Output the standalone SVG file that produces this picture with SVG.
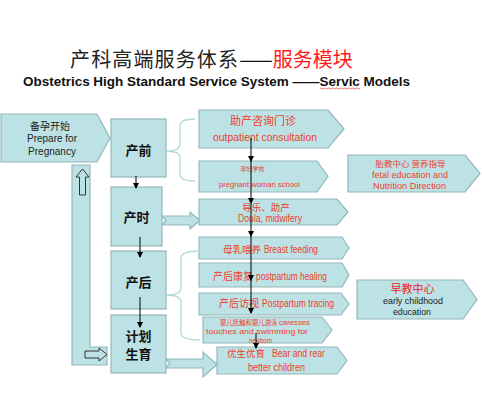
<svg xmlns="http://www.w3.org/2000/svg" width="482" height="420" viewBox="0 0 482 420">
<defs>
<marker id="ah" markerWidth="6" markerHeight="6" refX="5" refY="3" orient="auto" markerUnits="userSpaceOnUse">
<path d="M0,0 L6,3 L0,6 Z" fill="#000"/>
</marker>
<style>
.box{fill:#bde2e5;stroke:#93b7ba;stroke-width:1.2}
.hol{fill:#bde2e5;stroke:#333;stroke-width:1}
.brace{fill:none;stroke:#b2dadd;stroke-width:1.3}
.ar{stroke:#000;stroke-width:1;fill:none;marker-end:url(#ah)}
.en{font-family:"Liberation Sans",Arial,sans-serif}
.cn{font-family:"Noto Sans CJK SC","Noto Sans",sans-serif}
.red{fill:#ee3d2c}
.blk{fill:#222}
.stage{font-family:"Noto Sans CJK SC",sans-serif;font-weight:bold;font-size:13px;fill:#111;text-anchor:middle}
</style>
</defs>
<rect width="482" height="420" fill="#fff"/>

<g id="title">
<text x="70" y="67" class="cn" font-size="20" fill="#222"><tspan textLength="168">产科高端服务体系</tspan><tspan fill="#111">——</tspan><tspan fill="#ff1a1a">服务模块</tspan></text>
<text x="23" y="86" class="en" font-size="12.5" font-weight="bold" fill="#111" textLength="387" lengthAdjust="spacingAndGlyphs">Obstetrics High Standard Service System ——Servic Models</text>
<path d="M320,88.5 q1,-1.2 2,0 t2,0 t2,0 t2,0 t2,0 t2,0 t2,0 t2,0 t2,0 t2,0 t2,0 t2,0 t2,0 t2,0 t2,0 t2,0 t2,0 t2,0 t2,0 t2,0" fill="none" stroke="#e03030" stroke-width="0.7"/>
</g>

<g id="prepare">
<polygon class="box" points="1,114 97,114 110,138 97,162 1,162"/>
<text x="50" y="130" class="cn" font-size="10" fill="#222" text-anchor="middle">备孕开始</text>
<text x="52" y="142" class="en" font-size="10" fill="#222" text-anchor="middle">Prepare for</text>
<text x="52" y="155" class="en" font-size="10" fill="#222" text-anchor="middle">Pregnancy</text>
</g>

<g id="loop">
<polygon class="box" points="72,165 90,165 90,347 107,347 107,365 72,365"/>
<polygon class="hol" points="79.5,195 79.5,177 76,177 82.5,169 89,177 85.5,177 85.5,195"/>
<polygon class="hol" points="85,351 99,351 99,348 107,354.5 99,361 99,358 85,358"/>
</g>

<g id="antenatal">
<rect class="box" x="111" y="119" width="55" height="58"/>
<text x="138.5" y="155" class="stage">产前</text>
</g>
<g id="delivery">
<rect class="box" x="111" y="187" width="51" height="59"/>
<text x="136.5" y="222" class="stage">产时</text>
</g>
<g id="postnatal">
<rect class="box" x="111" y="251" width="55" height="58"/>
<text x="138.5" y="287" class="stage">产后</text>
</g>
<g id="planning">
<rect class="box" x="111" y="315" width="55" height="58"/>
<text x="138.5" y="340.5" class="stage">计划</text>
<text x="138.5" y="358.5" class="stage">生育</text>
</g>

<g id="s1">
<polygon class="box" points="199,110 328,110 344,129 328,148 199,148"/>
<text x="263" y="125" class="cn red" font-size="11" text-anchor="middle">助产咨询门诊</text>
<text x="213" y="141" class="en red" font-size="11" textLength="104" lengthAdjust="spacingAndGlyphs">outpatient consultation</text>
</g>
<g id="s2">
<polygon class="box" points="199,161 317,161 328,176.5 317,192 199,192"/>
<text x="252.5" y="171" class="cn red" font-size="6" text-anchor="middle">孕妇学校</text>
<text x="219" y="187" class="en red" font-size="8" textLength="81" lengthAdjust="spacingAndGlyphs">pregnant woman school</text>
</g>
<g id="s3">
<polygon class="box" points="199,199 337,199 348,212 337,225 199,225"/>
<text x="266" y="210.5" class="cn red" font-size="9.5" text-anchor="middle">导乐、助产</text>
<text x="238" y="221.5" class="en red" font-size="10" textLength="64" lengthAdjust="spacingAndGlyphs">Doula, midwifery</text>
</g>
<g id="s4">
<polygon class="box" points="199,237 342,237 349,248 342,259 199,259"/>
<text x="223" y="252.5" class="cn red" font-size="9.5">母乳喂养</text>
<text x="264" y="252.5" class="en red" font-size="10" textLength="54" lengthAdjust="spacingAndGlyphs">Breast feeding</text>
</g>
<g id="s5">
<polygon class="box" points="199,263 342,263 349,275 342,287 199,287"/>
<text x="213" y="279.5" class="cn red" font-size="10">产后康复</text>
<text x="256" y="279.5" class="en red" font-size="10.5" textLength="71" lengthAdjust="spacingAndGlyphs">postpartum healing</text>
</g>
<g id="s6">
<polygon class="box" points="199,293 341,293 349,304 341,315 199,315"/>
<text x="219" y="306.5" class="cn red" font-size="10">产后访视</text>
<text x="262" y="306.5" class="en red" font-size="10.5" textLength="72" lengthAdjust="spacingAndGlyphs">Postpartum tracing</text>
</g>
<g id="s7">
<polygon class="box" points="203,317 322,317 332,330 322,343 203,343"/>
<text x="220" y="325" class="cn red" font-size="6.4">婴儿抚触和婴儿游泳</text>
<text x="279" y="325" class="en red" font-size="8" textLength="31" lengthAdjust="spacingAndGlyphs">caresses</text>
<text x="206" y="333.5" class="en red" font-size="8" textLength="102" lengthAdjust="spacingAndGlyphs">touches and swimming for</text>
<text x="249" y="342.5" class="en red" font-size="8" textLength="23" lengthAdjust="spacingAndGlyphs">newborn</text>
</g>
<g id="s8">
<polygon class="box" points="217,347 337,347 347,360.5 337,374 217,374"/>
<text x="227" y="357" class="cn red" font-size="9.5">优生优育</text>
<text x="272" y="357" class="en red" font-size="10" textLength="53" lengthAdjust="spacingAndGlyphs">Bear and rear</text>
<text x="248" y="370.5" class="en red" font-size="10" textLength="57" lengthAdjust="spacingAndGlyphs">better children</text>
</g>

<g id="fetal">
<polygon class="box" points="348,155 465,155 480,173.5 465,192 348,192"/>
<text x="410.5" y="167" class="cn red" font-size="8.5" text-anchor="middle">胎教中心 营养指导</text>
<text x="372" y="178" class="en red" font-size="8.5" textLength="76" lengthAdjust="spacingAndGlyphs">fetal education  and</text>
<text x="373" y="188.5" class="en red" font-size="8.5" textLength="73" lengthAdjust="spacingAndGlyphs">Nutrition Direction</text>
</g>
<g id="early">
<polygon class="box" points="357,280 463,280 477,299.5 463,319 357,319"/>
<text x="412.5" y="292.5" class="cn" font-size="11" fill="#ee2020" text-anchor="middle">早教中心</text>
<text x="383" y="304" class="en blk" font-size="9" textLength="60" lengthAdjust="spacingAndGlyphs">early childhood</text>
<text x="393" y="315" class="en blk" font-size="9" textLength="38" lengthAdjust="spacingAndGlyphs">education</text>
</g>

<g id="connectors">
<path class="brace" d="M195,119 Q180,119 180,126 L180,144 Q180,151 166,151 Q180,151 180,158 L180,174 Q180,181 195,181"/>
<path class="brace" d="M200,251 Q181,251 181,258 L181,288 Q181,295 166,295 Q181,295 181,302 L181,333 Q181,340 200,340"/>
<polygon class="box" points="162,216 190,216 190,212 200,220.5 190,229 190,225 162,225 166,220.5"/>
<polygon class="box" points="166,359 203,359 203,352 217,364.5 203,377 203,368 166,368 170,363.5"/>
<line class="ar" x1="136" y1="176" x2="136" y2="188"/>
<line class="ar" x1="140" y1="237" x2="140" y2="257"/>
<line class="ar" x1="140" y1="297" x2="140" y2="327"/>
<line class="ar" x1="251" y1="138" x2="251" y2="161"/>
<line class="ar" x1="251" y1="161" x2="251" y2="203"/>
<line class="ar" x1="251" y1="203" x2="251" y2="236"/>
<line class="ar" x1="251" y1="236" x2="251" y2="280"/>
<line class="ar" x1="251" y1="280" x2="251" y2="313"/>
<line class="ar" x1="256" y1="333" x2="256" y2="348"/>
</g>
</svg>
